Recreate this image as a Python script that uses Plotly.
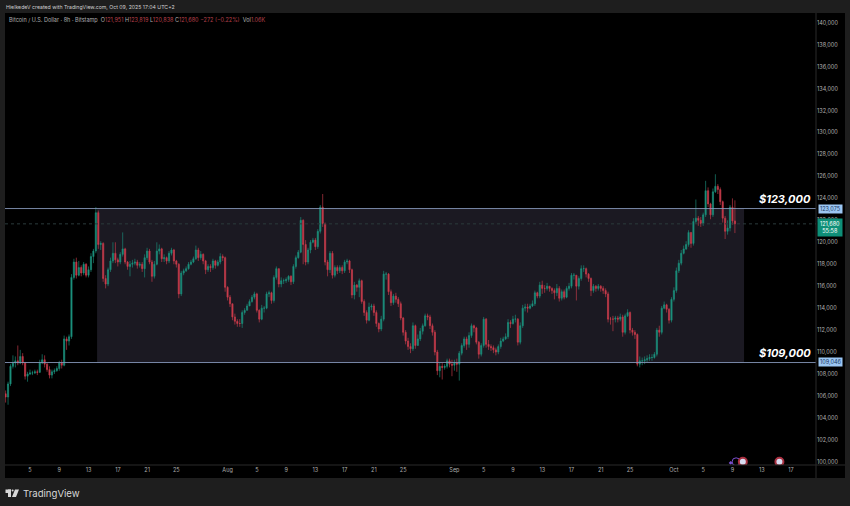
import numpy as np
import pandas as pd
import plotly.graph_objects as go

# prices in thousands of USD, one candle per 8 hours
first_open = 106.2
closes = [
105.9,107.1,108.7,109.0,109.2,109.0,109.6,109.0,107.8,108.0,
108.1,108.1,108.2,108.15,109.0,109.3,108.9,108.4,107.9,108.2,
108.3,108.5,109.0,108.8,111.2,111.0,111.4,116.8,118.2,117.0,
117.7,117.2,118.0,117.0,117.5,118.7,119.2,122.7,119.8,119.9,
116.7,116.2,117.5,118.3,119.0,118.4,118.2,118.9,119.4,118.2,
117.8,118.0,118.1,118.2,117.9,118.0,117.6,118.6,119.2,118.2,
116.9,118.0,119.2,119.4,118.5,118.6,118.3,119.0,119.3,118.3,
118.0,115.3,117.2,117.4,117.6,118.0,118.2,118.5,119.3,118.6,
118.9,118.3,117.5,117.8,117.7,118.3,117.9,118.2,118.7,118.6,
115.9,115.0,114.4,113.2,112.8,112.6,112.6,113.6,113.8,114.2,
114.6,115.0,115.3,113.8,113.0,114.0,114.0,115.3,115.4,114.7,
116.8,117.6,116.2,116.5,116.5,116.6,116.9,116.4,117.8,118.6,
119.1,122.0,119.8,118.2,119.3,120.0,120.2,119.6,121.0,123.2,
121.7,118.2,117.5,119.0,117.0,117.7,117.4,117.7,117.4,118.2,
118.3,117.5,115.2,116.1,115.9,116.5,114.6,113.6,112.9,114.1,
114.2,113.6,112.6,112.1,113.0,117.1,117.1,115.5,114.5,115.1,
114.8,114.4,113.1,111.8,111.0,110.5,110.3,112.4,110.6,111.2,
111.9,112.4,113.3,113.2,112.4,111.8,110.0,108.3,108.7,108.6,
108.7,109.2,108.9,108.8,109.0,108.9,109.9,110.6,111.2,110.7,
111.5,112.4,112.2,110.9,109.8,110.6,113.0,110.7,110.5,110.4,
110.2,110.0,110.5,111.0,111.2,111.4,112.7,112.6,113.0,113.0,
110.9,112.4,114.0,114.1,114.0,114.2,114.4,115.4,115.1,116.1,
115.8,115.8,116.0,115.8,115.6,115.4,115.8,114.9,115.5,115.0,
115.8,116.0,117.0,117.0,116.0,116.7,117.6,117.6,117.1,116.7,
115.6,116.0,115.8,116.0,115.8,115.6,115.3,113.0,113.0,113.0,
113.1,113.0,113.2,111.8,113.3,113.6,112.0,111.8,111.6,108.9,
109.2,109.2,109.3,109.4,109.5,109.5,109.8,112.0,111.8,114.0,
114.3,113.9,112.9,114.8,115.6,117.4,118.1,119.0,119.4,119.8,
120.9,119.9,121.9,122.2,122.0,121.7,122.5,124.7,123.5,122.5,
124.6,125.1,124.8,123.7,122.2,121.0,121.3,123.2,121.951,121.68,
]
highs = [
106.5,107.3,108.9,109.7,109.6,110.6,110.2,109.9,109.1,108.2,
108.4,108.3,108.4,108.4,109.3,109.8,109.7,109.0,108.7,108.4,
108.5,108.7,109.2,109.3,111.5,111.4,111.6,117.1,118.5,118.6,
118.3,117.9,118.2,118.1,117.8,119.0,119.4,123.2,122.9,120.1,
120.0,117.0,117.7,118.6,120.0,120.0,118.6,119.1,120.9,119.5,
118.3,118.3,118.4,118.5,118.4,118.2,118.2,118.9,119.5,119.4,
118.4,118.3,120.0,119.8,119.5,118.9,118.7,119.2,119.5,119.4,
118.4,118.1,117.4,117.6,117.8,118.2,118.4,118.7,119.7,119.5,
119.2,119.0,118.4,118.0,118.0,118.5,118.4,118.4,119.0,118.9,
118.7,116.0,115.2,114.4,113.5,113.0,113.0,113.8,114.0,114.4,
114.8,115.2,115.5,115.4,113.9,114.3,114.2,115.5,115.6,115.5,
117.0,117.8,117.6,116.8,116.7,116.8,117.0,117.0,118.0,118.8,
119.3,122.3,122.1,120.2,119.5,120.2,120.4,120.4,121.2,123.4,
124.4,121.8,118.4,119.2,119.2,117.9,117.9,117.9,117.9,118.4,
118.5,118.4,117.6,116.4,116.2,116.7,116.6,114.8,113.8,114.5,
114.4,114.4,113.8,112.7,113.3,117.4,117.3,117.2,115.7,115.3,
115.4,115.0,114.6,113.2,112.0,111.3,110.8,112.7,112.5,111.6,
112.2,112.6,113.5,113.5,113.4,112.6,112.0,110.2,109.0,109.0,
108.9,109.4,109.4,109.3,109.3,109.4,110.1,110.8,111.4,111.4,
111.8,112.6,112.5,112.3,111.0,110.8,113.2,113.1,111.1,110.7,
110.6,110.4,110.7,111.3,111.4,111.7,113.0,112.9,113.3,113.4,
113.1,112.7,114.3,114.4,114.4,114.4,114.7,115.6,115.5,116.4,
116.5,116.1,116.3,116.0,115.9,115.8,116.2,116.0,115.7,115.7,
116.0,116.3,117.2,117.2,117.0,116.9,117.9,117.9,117.7,117.2,
116.8,116.2,116.1,116.2,116.1,116.0,115.8,115.5,113.2,113.3,
113.3,113.3,113.5,113.4,113.5,113.9,113.7,112.2,112.0,111.7,
109.6,109.5,109.6,109.7,109.8,109.8,110.0,112.2,112.4,114.2,
114.6,114.4,114.0,115.0,115.9,117.7,118.4,119.3,119.7,120.1,
121.1,120.9,122.2,123.9,122.4,122.3,122.7,125.6,125.0,123.6,
124.9,126.2,125.3,125.0,123.8,122.4,122.0,123.4,124.0,123.819,
]
lows = [
105.4,105.2,106.9,108.5,108.6,108.8,108.9,108.8,107.5,107.3,
107.9,107.9,108.0,107.9,108.1,108.9,108.6,108.2,107.6,107.6,
108.0,108.2,108.3,108.5,108.7,110.2,110.6,111.2,116.6,116.7,
116.9,116.9,117.0,116.8,116.8,117.3,118.1,119.0,119.4,119.3,
116.4,115.8,116.0,117.3,118.1,118.1,117.8,118.0,118.7,118.0,
117.5,116.9,117.7,117.9,117.6,117.7,117.3,116.8,118.4,118.0,
116.4,116.7,117.9,118.9,118.2,118.2,118.0,118.1,118.8,118.0,
117.7,114.9,115.1,117.0,117.3,117.5,117.9,118.1,118.4,118.3,
118.4,118.0,117.1,117.3,117.3,117.5,117.6,117.8,118.0,118.3,
115.5,114.7,114.1,112.9,112.5,112.3,112.3,112.2,113.4,113.8,
114.2,114.5,114.8,113.6,112.7,112.9,113.6,113.9,115.0,114.4,
114.5,116.6,115.9,115.9,116.2,116.3,116.4,116.1,116.2,117.6,
118.5,119.0,118.0,117.9,118.0,119.0,119.9,119.3,119.4,120.8,
121.4,117.9,116.9,117.2,116.7,116.8,117.1,117.2,117.1,117.2,
118.0,117.2,114.9,114.8,115.5,115.0,114.4,113.3,112.6,112.8,
113.8,113.3,112.3,111.8,111.9,112.8,116.6,115.2,114.2,114.3,
114.5,114.1,112.9,111.5,110.7,110.2,109.9,110.1,110.3,110.6,
111.0,111.6,112.3,112.9,112.1,111.5,109.7,107.9,107.7,107.5,
108.4,108.5,108.6,107.8,108.3,108.2,107.4,109.7,110.4,110.2,
110.4,111.3,111.8,110.7,109.4,109.6,110.4,110.4,110.2,110.1,
109.9,109.7,109.8,110.3,110.9,111.1,111.2,112.2,112.5,112.7,
110.6,110.7,112.2,113.7,113.6,113.9,114.1,114.2,114.9,114.9,
115.3,115.4,115.6,115.5,115.3,114.8,115.1,114.6,114.7,114.8,
114.9,115.6,115.8,116.6,114.7,115.7,116.5,117.3,116.8,116.4,
115.1,115.4,115.5,115.6,115.5,115.3,115.0,112.7,112.5,111.9,
112.7,112.7,112.8,111.4,111.6,113.2,111.7,111.5,111.2,108.7,
108.6,108.8,108.9,109.1,109.2,109.2,109.4,109.6,111.4,111.6,
113.9,113.6,112.6,112.7,114.6,115.4,117.2,117.9,118.9,119.3,
119.6,119.5,119.7,121.7,121.5,121.4,121.5,122.3,123.2,122.1,
122.3,124.5,124.4,123.4,121.8,120.3,120.7,121.0,121.6,120.838,
]
opens = [first_open] + closes[:-1]
dates = pd.date_range("2025-07-01 16:00", periods=len(closes), freq="8h")

tick_dates = ["2025-07-05","2025-07-09","2025-07-13","2025-07-17","2025-07-21","2025-07-25",
              "2025-08-01","2025-08-05","2025-08-09","2025-08-13","2025-08-17","2025-08-21","2025-08-25",
              "2025-09-01","2025-09-05","2025-09-09","2025-09-13","2025-09-17","2025-09-21","2025-09-25",
              "2025-10-01","2025-10-05","2025-10-09","2025-10-13","2025-10-17"]
tick_labels = ["5","9","13","17","21","25","Aug","5","9","13","17","21","25",
               "Sep","5","9","13","17","21","25","Oct","5","9","13","17"]
price_ticks = list(range(100000, 140001, 2000))

upper_level = 123075
lower_level = 109046
last_price = 121680
event_dates = ["2025-10-10 10:00", "2025-10-15 10:00"]
event_prices = [100000, 100000]
webinar_dates = ["2025-10-09 12:00"]
webinar_prices = [100000]
marker_dates = ["2025-10-08 18:00"]
marker_prices = [99900]

W, H = 850, 506
L, R, T, B = 5, 816, 13, 465
FONT = "Inter, Roboto, sans-serif"
px = lambda x: x / W
py = lambda y: 1 - y / H


def mult(a):
    return np.array(a) * 1000


fig = go.Figure()
fig.add_trace(go.Candlestick(
    x=dates, open=mult(opens), high=mult(highs), low=mult(lows), close=mult(closes),
    increasing=dict(line=dict(color="#1c8f7c", width=0.65), fillcolor="#1c8f7c"),
    decreasing=dict(line=dict(color="#c93c4b", width=0.65), fillcolor="#c93c4b"),
    whiskerwidth=0, showlegend=False, hoverinfo="skip",
))
fig.add_trace(go.Scatter(
    x=webinar_dates, y=webinar_prices, mode="markers", showlegend=False, hoverinfo="skip",
    marker=dict(size=8, color="rgba(0,0,0,0)", line=dict(color="#7a4fd0", width=1)),
))
fig.add_trace(go.Scatter(
    x=marker_dates, y=marker_prices, mode="markers", showlegend=False, hoverinfo="skip",
    marker=dict(size=3, symbol="diamond", color="#7a4fd0"),
))
fig.add_trace(go.Scatter(
    x=event_dates, y=event_prices, mode="markers", showlegend=False, hoverinfo="skip",
    marker=dict(size=8, color="#d8dcf0", line=dict(color="#a83040", width=2)),
))

shapes = [
    # black chart panel incl. axes
    dict(type="rect", xref="paper", yref="paper", x0=px(L), x1=px(845), y0=py(478), y1=py(T),
         fillcolor="#000000", line_width=0, layer="below"),
    dict(type="rect", xref="x", yref="y", x0="2025-07-14 04:00", x1="2025-10-10 14:00",
         y0=lower_level, y1=upper_level, fillcolor="#1b1922", line_width=0, layer="below"),
    dict(type="line", xref="paper", yref="y", x0=px(L), x1=px(R), y0=upper_level, y1=upper_level,
         line=dict(color="#8496b8", width=0.9)),
    dict(type="line", xref="paper", yref="y", x0=px(L), x1=px(R), y0=lower_level, y1=lower_level,
         line=dict(color="#8496b8", width=0.9)),
    dict(type="line", xref="paper", yref="y", x0=px(L), x1=px(R), y0=last_price, y1=last_price,
         line=dict(color="#2b3a3c", width=1, dash="dot")),
    dict(type="line", xref="paper", yref="paper", x0=px(L), x1=px(845), y0=py(B), y1=py(B),
         line=dict(color="#2a2a2a", width=1)),
    dict(type="line", xref="paper", yref="paper", x0=px(R), x1=px(R), y0=py(T), y1=py(478),
         line=dict(color="#2a2a2a", width=1)),
    # logo
    dict(type="rect", xref="paper", yref="paper", x0=px(5.5), x1=px(11), y0=py(493), y1=py(489.5),
         fillcolor="#d8d8d8", line_width=0),
    dict(type="rect", xref="paper", yref="paper", x0=px(8), x1=px(11), y0=py(497), y1=py(489.5),
         fillcolor="#d8d8d8", line_width=0),
    dict(type="circle", xref="paper", yref="paper", x0=px(11.6), x1=px(13.6), y0=py(491.6), y1=py(489.5),
         fillcolor="#d8d8d8", line_width=0),
    dict(type="path", xref="paper", yref="paper", fillcolor="#d8d8d8", line_width=0,
         path=f"M {px(15)} {py(489.5)} L {px(19)} {py(489.5)} L {px(16)} {py(497)} L {px(12)} {py(497)} Z"),
]

red = "#b8404c"
legend_text = ("Bitcoin / U.S. Dollar · 8h · Bitstamp  "
               f"O<span style='color:{red}'>121,951</span> H<span style='color:{red}'>123,819</span> "
               f"L<span style='color:{red}'>120,838</span> C<span style='color:{red}'>121,680</span> "
               f"<span style='color:{red}'>−272 (−0.22%)</span>  Vol<span style='color:{red}'>1.06K</span>")


def note(text, x, y, size, color, anchor="left", **kw):
    return dict(text=text, xref="paper", yref="paper", x=px(x), y=py(y), showarrow=False,
                xanchor=anchor, yanchor="middle", font=dict(family=FONT, size=size, color=color), **kw)


annotations = [
    note("HielkedeV created with TradingView.com, Oct 09, 2025 17:04 UTC+2", 4, 6.5, 5.2, "#d0d0d0"),
    note(legend_text, 7, 19.5, 5.5, "#b0b0b0"),
    note("<b><i>$123,000</i></b>", 813, 199, 11, "#ffffff", anchor="right"),
    note("<b><i>$109,000</i></b>", 813, 353, 11, "#ffffff", anchor="right"),
    note("TradingView", 21, 493, 9.6, "#d8d8d8"),
    note("123,075", 830, 209, 5.5, "#17365e", anchor="center", bgcolor="#9cc6f2", borderpad=1),
    note("109,046", 830, 362, 5.5, "#17365e", anchor="center", bgcolor="#9cc6f2", borderpad=1),
    note("121,680<br>55:58", 830, 227, 5.5, "#ffffff", anchor="center", bgcolor="#0e8f78", borderpad=2),
]

fig.update_layout(
    width=W, height=H, margin=dict(l=0, r=0, t=0, b=0), autosize=False,
    paper_bgcolor="#1e1e1e", plot_bgcolor="rgba(0,0,0,0)", shapes=shapes, annotations=annotations,
    showlegend=False,
    xaxis=dict(domain=[px(L), px(R)], range=["2025-07-01 14:00", "2025-10-20 10:00"],
               rangeslider=dict(visible=False), showgrid=False, zeroline=False, showline=False,
               tickmode="array", tickvals=tick_dates, ticktext=tick_labels, ticks="", ticklen=0,
               tickfont=dict(family=FONT, size=5.5, color="#b0b0b0")),
    yaxis=dict(domain=[py(B), py(T)], range=[99710, 140890], side="right", showgrid=False, zeroline=False,
               showline=False, tickmode="array", tickvals=price_ticks,
               ticktext=[f"{v:,}" for v in price_ticks], ticks="", ticklen=0,
               tickfont=dict(family=FONT, size=5.5, color="#b0b0b0")),
)
fig.write_html("out.html", config=dict(displayModeBar=False),
               post_script="document.body.style.margin='0';document.body.style.overflow='hidden';")
